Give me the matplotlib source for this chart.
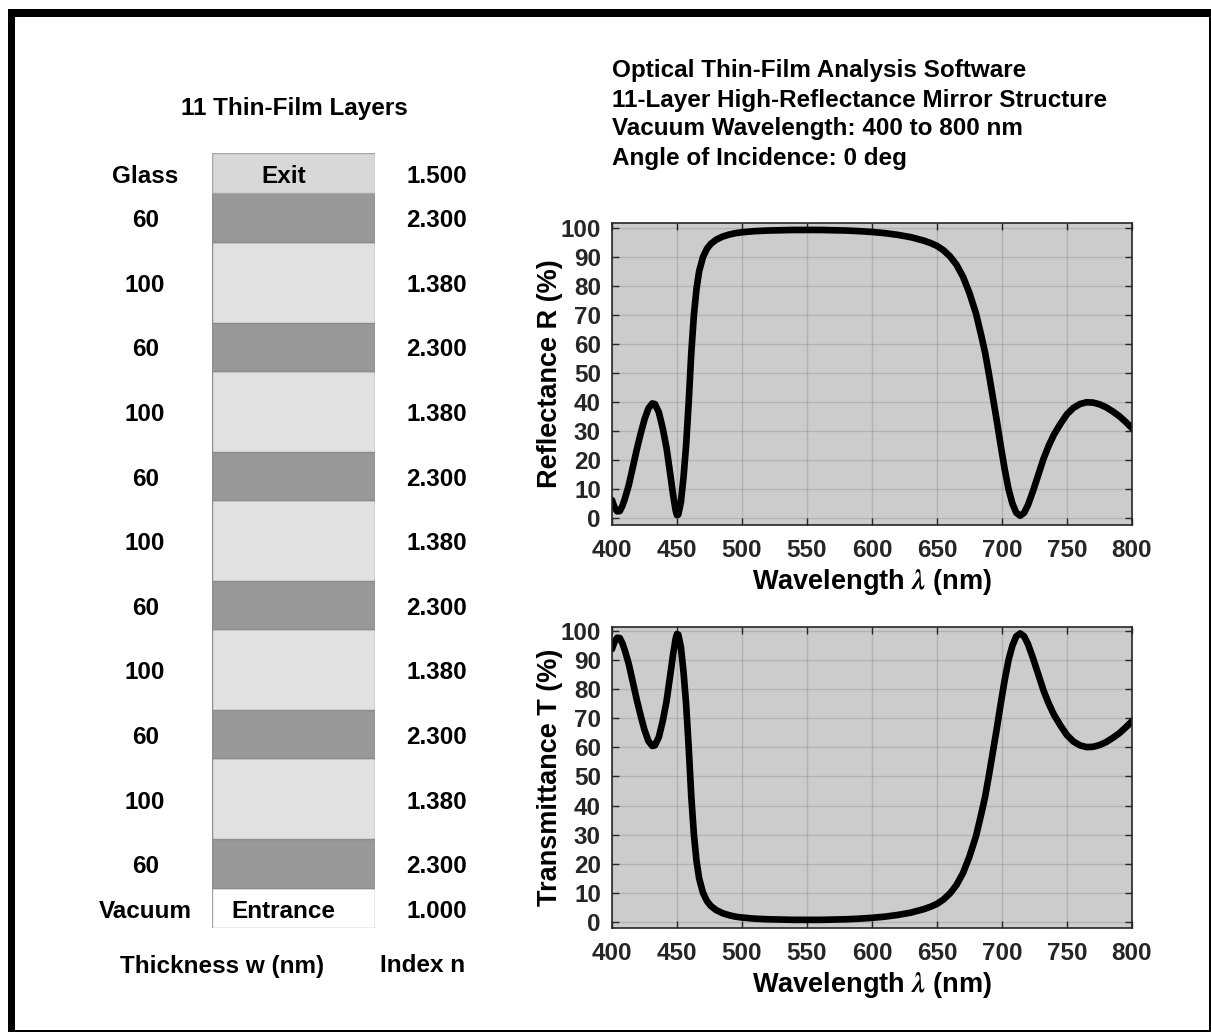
import matplotlib
matplotlib.use('Agg')
import matplotlib.pyplot as plt
from matplotlib.patches import Rectangle
from matplotlib.transforms import offset_copy

plt.rcParams['font.family'] = ['Liberation Sans', 'DejaVu Sans']
plt.rcParams['font.weight'] = 'bold'
plt.rcParams['axes.labelweight'] = 'bold'
plt.rcParams['mathtext.fontset'] = 'stix'

# estructura de capas, desde la entrada (abajo) hasta la salida (arriba)
espesores = [60, 100, 60, 100, 60, 100, 60, 100, 60, 100, 60]
indices = [2.3, 1.38, 2.3, 1.38, 2.3, 1.38, 2.3, 1.38, 2.3, 1.38, 2.3]
medio_entrada = 'Vacuum'
medio_salida = 'Glass'
n_entrada = 1.0
n_salida = 1.5

# curvas
wl = [400, 402, 404, 406, 408, 410, 413, 416, 419, 422, 425, 428, 431, 433, 436,
      439, 442, 445, 447, 449, 450, 451, 453, 455, 457, 459, 461, 463, 465, 467,
      470, 473, 476, 480, 485, 490, 495, 500, 510, 520, 530, 540, 550, 560, 570,
      580, 590, 600, 610, 620, 630, 640, 645, 650, 655, 660, 665, 670, 675, 680,
      684, 687, 690, 693, 696, 699, 702, 705, 708, 711, 714, 717, 720, 724, 728,
      732, 736, 740, 745, 750, 755, 760, 765, 770, 775, 780, 785, 790, 795, 800]
R = [6.2, 3.6, 2.3, 2.4, 4.2, 6.8, 11.5, 17.5, 23.5, 29, 34, 37.8, 39.5, 39.3, 36.5,
     31, 24, 14.5, 8, 2.5, 1, 1.2, 5.5, 14, 25, 40, 57, 70, 79, 85,
     90, 92.8, 94.5, 95.9, 97, 97.7, 98.2, 98.5, 98.9, 99.1, 99.2, 99.3, 99.3, 99.3, 99.2,
     99.1, 98.9, 98.6, 98.2, 97.6, 96.8, 95.6, 94.8, 93.8, 92.3, 90.2, 87.3, 83.2, 77.5, 70.5,
     63, 57, 49.5, 41.5, 33.5, 25, 17, 10, 5, 1.8, 0.8, 1.8, 4.5, 9.5, 15,
     20.5, 25, 28.8, 32.5, 35.8, 38, 39.3, 39.9, 39.8, 39.2, 38.2, 36.8, 35.2, 33.2, 31]
T = [93.8, 96.4, 97.7, 97.6, 95.8, 93.2, 88.5, 82.5, 76.5, 71, 66, 62.2, 60.5, 60.7, 63.5,
     69, 76, 85.5, 92, 97.5, 99, 98.8, 94.5, 86, 75, 60, 43, 30, 21, 15,
     10, 7.2, 5.5, 4.1, 3, 2.3, 1.8, 1.5, 1.1, 0.9, 0.8, 0.7, 0.7, 0.7, 0.8,
     0.9, 1.1, 1.4, 1.8, 2.4, 3.2, 4.4, 5.2, 6.2, 7.7, 9.8, 12.7, 16.8, 22.5, 29.5,
     37, 43, 50.5, 58.5, 66.5, 75, 83, 90, 95, 98.2, 99.2, 98.2, 95.5, 90.5, 85,
     79.5, 75, 71.2, 67.5, 64.2, 62, 60.7, 60.1, 60.2, 60.8, 61.8, 63.2, 64.8, 66.8, 69]

titulo = ['Optical Thin-Film Analysis Software',
          '11-Layer High-Reflectance Mirror Structure',
          'Vacuum Wavelength: 400 to 800 nm',
          'Angle of Incidence: 0 deg']

W, H = 1211, 1032
fig = plt.figure(figsize=(W / 100, H / 100), dpi=100)
fig.patch.set_facecolor('white')


def caja(x0, y0, x1, y1):
    # rectangulo en pixeles de la figura (y hacia abajo)
    return [x0 / W, 1 - y1 / H, (x1 - x0) / W, (y1 - y0) / H]


def gris(n):
    g = 1 - (n - 1) / 3.25
    return (g, g, g)


# marco negro
for x0, y0, x1, y1 in [(8, 9, 1211, 17), (8, 9, 15, 1032), (1209, 9, 1211, 1032), (8, 1030, 1211, 1032)]:
    fig.add_artist(Rectangle((x0 / W, 1 - y1 / H), (x1 - x0) / W, (y1 - y0) / H,
                             transform=fig.transFigure, color='black', lw=0))

# --- pila de capas ---
alto_medio = 50
ax0 = fig.add_axes(caja(212, 153, 375, 928))
ax0.set_xlim(0, 1)
total = alto_medio * 2 + sum(espesores)
ax0.set_ylim(0, total)
ax0.axis('off')
tr = offset_copy(ax0.transData, fig=fig, y=-2.3, units='points')

xl, xr, xt = -0.41, 1.38, 0.44
fs = 17.5

y = 0
ax0.add_patch(Rectangle((0, y), 1, alto_medio, facecolor=gris(n_entrada), edgecolor='#a6a6a6', lw=1))
ax0.text(xt, y + alto_medio / 2, 'Entrance', ha='center', va='center', fontsize=fs, transform=tr)
ax0.text(xl, y + alto_medio / 2, medio_entrada, ha='center', va='center', fontsize=fs, transform=tr)
ax0.text(xr, y + alto_medio / 2, f'{n_entrada:.3f}', ha='center', va='center', fontsize=fs, transform=tr)
y += alto_medio
for w, n in zip(espesores, indices):
    ax0.add_patch(Rectangle((0, y), 1, w, facecolor=gris(n), edgecolor='#8c8c8c', lw=1))
    ax0.text(xl, y + w / 2, f'{w}', ha='center', va='center', fontsize=fs, transform=tr)
    ax0.text(xr, y + w / 2, f'{n:.3f}', ha='center', va='center', fontsize=fs, transform=tr)
    y += w
ax0.add_patch(Rectangle((0, y), 1, alto_medio, facecolor=gris(n_salida), edgecolor='#a6a6a6', lw=1))
ax0.text(xt, y + alto_medio / 2, 'Exit', ha='center', va='center', fontsize=fs, transform=tr)
ax0.text(xl, y + alto_medio / 2, medio_salida, ha='center', va='center', fontsize=fs, transform=tr)
ax0.text(xr, y + alto_medio / 2, f'{n_salida:.3f}', ha='center', va='center', fontsize=fs, transform=tr)

fig.text(294 / W, 1 - 108 / H, '11 Thin-Film Layers', ha='center', va='center', fontsize=fs)
fig.text(222 / W, 1 - 966 / H, 'Thickness w (nm)', ha='center', va='center', fontsize=fs)
fig.text(423 / W, 1 - 966 / H, 'Index n', ha='center', va='center', fontsize=fs)

for i, linea in enumerate(titulo):
    fig.text(612 / W, 1 - (71 + 29 * i) / H, linea, ha='left', va='center', fontsize=fs)


# --- graficas ---
def preparar(ax, ylab, ylim):
    ax.set_facecolor('#cccccc')
    ax.set_xlim(400, 800)
    ax.set_ylim(*ylim)
    ax.set_xticks(range(400, 801, 50))
    ax.set_yticks(range(0, 101, 10))
    ax.grid(True, color='#262626', alpha=0.15, lw=1)
    ax.set_axisbelow(True)
    ax.tick_params(direction='in', top=True, right=True, length=5, width=1,
                   labelsize=17.5, colors='#262626', pad=8)
    ax.tick_params(axis='x', pad=10)
    for lab in ax.get_xticklabels() + ax.get_yticklabels():
        lab.set_color('#262626')
        lab.set_fontweight('bold')
    for s in ax.spines.values():
        s.set_color('#262626')
        s.set_linewidth(1.2)
    ax.set_xlabel(r'Wavelength $\lambda$ (nm)', fontsize=19.5, labelpad=4)
    ax.set_ylabel(ylab, fontsize=19.5, labelpad=-2)


ax1 = fig.add_axes(caja(612, 223, 1132, 525))
ax1.plot(wl, R, color='black', lw=4.8, solid_joinstyle='round', solid_capstyle='round')
preparar(ax1, 'Reflectance R (%)', (-2.4, 101.7))

ax2 = fig.add_axes(caja(612, 627, 1132, 928))
ax2.plot(wl, T, color='black', lw=4.8, solid_joinstyle='round', solid_capstyle='round')
preparar(ax2, 'Transmittance T (%)', (-2.1, 101.4))

fig.savefig('out.png', dpi=100)
